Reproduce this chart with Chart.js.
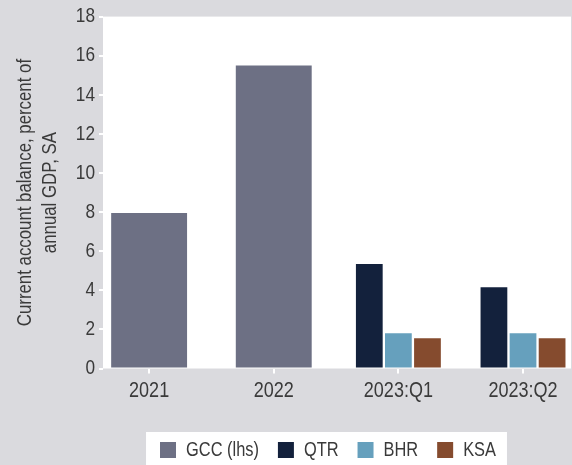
<!DOCTYPE html>
<html>
<head>
<meta charset="utf-8">
<script src="https://cdn.jsdelivr.net/npm/chart.js@4/dist/chart.umd.min.js"></script>
<style>
  html, body { margin: 0; padding: 0; background: #dadade; }
  #wrap { width: 572px; height: 465px; }
</style>
</head>
<body>
<div id="wrap"><canvas id="chart"></canvas></div>
<script>
// Data
const categories = ['2021', '2022', '2023:Q1', '2023:Q2'];
const gccValues = [7.95, 15.5, null, null];
const qtrValues = [null, null, 5.35, 4.15];
const bhrValues = [null, null, 1.8, 1.8];
const kasValues = [null, null, 1.55, 1.55];
const yTicks = [0, 2, 4, 6, 8, 10, 12, 14, 16, 18];

const FONT = "'Liberation Sans', Arial, sans-serif";
const TEXT = '#3a3a3a';
// No condensed face is installed, so text is squeezed horizontally
const NARROW = 0.82;

function narrowText(ctx) {
    const fill = ctx.fillText.bind(ctx);
    const measure = ctx.measureText.bind(ctx);
    ctx.fillText = function (text, x, y, maxWidth) {
        ctx.save();
        ctx.translate(x, y);
        ctx.scale(NARROW, 1);
        if (maxWidth === undefined) fill(text, 0, 0);
        else fill(text, 0, 0, maxWidth / NARROW);
        ctx.restore();
    };
    ctx.measureText = function (text) {
        const m = measure(text);
        return {
            width: m.width * NARROW,
            actualBoundingBoxLeft: m.actualBoundingBoxLeft * NARROW,
            actualBoundingBoxRight: m.actualBoundingBoxRight * NARROW,
            actualBoundingBoxAscent: m.actualBoundingBoxAscent,
            actualBoundingBoxDescent: m.actualBoundingBoxDescent
        };
    };
}

// Turn a value list into {x, y} points on the category index
function points(values) {
    return values.map((v, i) => ({ x: i, y: v }));
}

// Gray page, white plot area and white legend panel
const backdrop = {
    id: 'backdrop',
    afterLayout(chart) {
        // legend sits a little left of the plot centre
        chart.legend.left -= 9;
        chart.legend.right -= 9;
    },
    beforeDraw(chart) {
        const { ctx, chartArea, legend } = chart;
        ctx.save();
        ctx.fillStyle = '#dadade';
        ctx.fillRect(0, 0, chart.width, chart.height);
        ctx.fillStyle = '#ffffff';
        ctx.fillRect(chartArea.left, chartArea.top, chartArea.right - chartArea.left, chartArea.bottom - chartArea.top);
        if (legend && legend.legendHitBoxes.length) {
            const boxes = legend.legendHitBoxes;
            const left = Math.min(...boxes.map(b => b.left)) - 14;
            const right = Math.max(...boxes.map(b => b.left + b.width)) + 11;
            const top = Math.min(...boxes.map(b => b.top)) - 8;
            ctx.fillRect(left, top, right - left, chart.height - top);
        }
        ctx.restore();
    }
};

const ctx = document.getElementById('chart').getContext('2d');
narrowText(ctx);

new Chart(ctx, {
    type: 'bar',
    data: {
        datasets: [
            { label: 'GCC (lhs)', data: points(gccValues), backgroundColor: '#6d7084', barPercentage: 0.87 },
            { label: 'QTR', data: points(qtrValues), backgroundColor: '#13213c', barPercentage: 0.92 },
            { label: 'BHR', data: points(bhrValues), backgroundColor: '#66a0bd', barPercentage: 0.92 },
            { label: 'KSA', data: points(kasValues), backgroundColor: '#854b2e', barPercentage: 0.92 }
        ]
    },
    options: {
        responsive: true,
        maintainAspectRatio: false,
        animation: false,
        datasets: {
            bar: { skipNull: true, categoryPercentage: 0.7, borderWidth: 0 }
        },
        layout: { padding: { top: 14, right: 1, left: 0, bottom: 0 } },
        scales: {
            x: {
                type: 'linear',
                offset: false,
                min: -0.37,
                max: 3.385,
                afterBuildTicks: (scale) => {
                    scale.ticks = categories.map((c, i) => ({ value: i }));
                },
                afterFit: (scale) => { scale.height = 52.5; },
                grid: { offset: false, drawOnChartArea: false, color: '#ffffff', tickLength: 5, lineWidth: 2 },
                border: { display: false },
                ticks: {
                    color: TEXT,
                    font: { family: FONT, size: 22 },
                    padding: 4,
                    maxRotation: 0,
                    callback: (v) => categories[v]
                }
            },
            y: {
                min: 0,
                max: 18,
                afterBuildTicks: (scale) => {
                    scale.ticks = yTicks.map(v => ({ value: v }));
                },
                afterFit: (scale) => { scale.width = 103; },
                grid: { drawOnChartArea: false, color: '#ffffff', tickLength: 4, lineWidth: 2 },
                border: { display: false },
                ticks: {
                    color: TEXT,
                    font: { family: FONT, size: 21 },
                    padding: 4
                },
                title: {
                    display: true,
                    text: ['Current account balance, percent of', 'annual GDP, SA'],
                    color: TEXT,
                    font: { family: FONT, size: 20.5, lineHeight: '25px' },
                    padding: { top: 12.5, bottom: 0 }
                }
            }
        },
        plugins: {
            legend: {
                position: 'bottom',
                fullSize: false,
                maxHeight: 44,
                labels: {
                    color: TEXT,
                    font: { family: FONT, size: 20 },
                    boxWidth: 16,
                    boxHeight: 16,
                    padding: 19
                }
            },
            tooltip: { enabled: false }
        }
    },
    plugins: [backdrop]
});
</script>
</body>
</html>
